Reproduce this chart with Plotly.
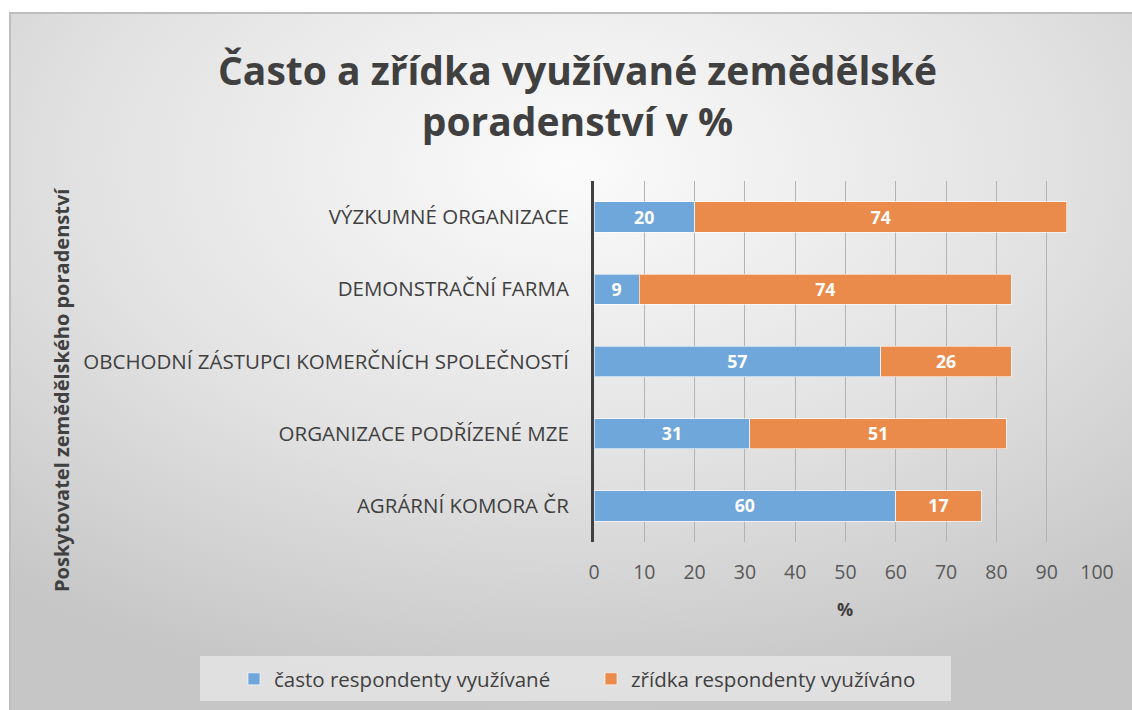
import base64
import plotly.graph_objects as go

categories = [
    "AGRÁRNÍ KOMORA ČR",
    "ORGANIZACE PODŘÍZENÉ MZE",
    "OBCHODNÍ ZÁSTUPCI KOMERČNÍCH SPOLEČNOSTÍ",
    "DEMONSTRAČNÍ FARMA",
    "VÝZKUMNÉ ORGANIZACE",
]
often_values = [60, 31, 57, 9, 20]
rarely_values = [17, 51, 26, 74, 74]
series_names = ["často respondenty využívané", "zřídka respondenty využíváno"]
x_ticks = [0, 10, 20, 30, 40, 50, 60, 70, 80, 90, 100]

W, H = 1132, 710
L, R, T, B = 594, 35, 181, 168
PW = W - L - R
PH = H - T - B


def px_x(px):
    return (px - L) / PW


def px_y(py):
    return (H - B - py) / PH


FONT = "Open Sans"
BLUE = "#6fa7da"
ORANGE = "#eb8b4b"

svg = f'''<svg xmlns="http://www.w3.org/2000/svg" width="1123" height="698" viewBox="0 0 1123 698" preserveAspectRatio="none">
<defs><radialGradient id="g" cx="0.5" cy="0.22" r="0.78" fx="0.5" fy="0.22">
<stop offset="0" stop-color="#fbfbfb"/><stop offset="0.55" stop-color="#e2e2e2"/><stop offset="1" stop-color="#c6c6c6"/>
</radialGradient></defs>
<rect x="0" y="0" width="1123" height="698" fill="url(#g)"/>
<line x1="0" y1="1" x2="1123" y2="1" stroke="#bdbdbd" stroke-width="2"/>
<line x1="1" y1="0" x2="1" y2="698" stroke="#bdbdbd" stroke-width="2"/>
</svg>'''
src = "data:image/svg+xml;base64," + base64.b64encode(svg.encode("utf-8")).decode("ascii")

fig = go.Figure()
for name, vals, col in [(series_names[0], often_values, BLUE), (series_names[1], rarely_values, ORANGE)]:
    fig.add_trace(go.Bar(
        y=categories, x=vals, name=name, orientation="h",
        marker=dict(color=col, line=dict(color="rgba(255,255,255,0.6)", width=1)),
        width=0.42,
        text=[str(v) for v in vals], textposition="inside", insidetextanchor="middle",
        textangle=0,
        textfont=dict(family=FONT, size=19, color="white", weight="bold"),
        hoverinfo="skip",
    ))

fig.update_layout(
    width=W, height=H, barmode="stack",
    margin=dict(l=L, r=R, t=T, b=B, autoexpand=False),
    paper_bgcolor="white", plot_bgcolor="rgba(0,0,0,0)",
    font=dict(family=FONT, color="#404040"),
    showlegend=True,
    legend=dict(orientation="h", xref="paper", yref="paper",
                x=px_x(234), y=px_y(679), xanchor="left", yanchor="middle",
                bgcolor="rgba(0,0,0,0)", font=dict(family=FONT, size=20.5, color="#404040"),
                traceorder="normal", entrywidth=312, entrywidthmode="pixels", itemwidth=30),
    xaxis=dict(range=[0, 100], tickvals=x_ticks, showgrid=True, gridcolor="#b3b3b3", gridwidth=1,
               zeroline=False, showline=False, tickfont=dict(family=FONT, size=19.5, color="#595959"),
               ticklabelstandoff=16, fixedrange=True),
    yaxis=dict(range=[-0.5, 4.5], showline=True, linecolor="#404040", linewidth=3, showgrid=False,
               tickfont=dict(family=FONT, size=20.5, color="#404040"), ticklabelstandoff=18,
               fixedrange=True),
    images=[dict(source=src, xref="paper", yref="paper", x=px_x(9), y=px_y(12),
                 sizex=(W - 9) / PW, sizey=(H - 12) / PH, sizing="stretch",
                 xanchor="left", yanchor="top", layer="below")],
    shapes=[dict(type="rect", xref="paper", yref="paper", x0=px_x(200), x1=px_x(951),
                 y0=px_y(656), y1=px_y(701), fillcolor="rgba(232,232,232,0.75)", line=dict(width=0),
                 layer="below")],
    annotations=[
        dict(text="Často a zřídka využívané zemědělské<br>poradenství v %", xref="paper", yref="paper",
             x=px_x(577), y=px_y(95), xanchor="center", yanchor="middle", showarrow=False,
             font=dict(family=FONT, size=39, color="#404040", weight="bold")),
        dict(text="%", xref="paper", yref="paper", x=px_x(845), y=px_y(609), xanchor="center",
             yanchor="middle", showarrow=False,
             font=dict(family=FONT, size=18, color="#404040", weight="bold")),
        dict(text="Poskytovatel zemědělského poradenství", xref="paper", yref="paper", x=px_x(61),
             y=px_y(390), xanchor="center", yanchor="middle", textangle=-90, showarrow=False,
             font=dict(family=FONT, size=20, color="#404040", weight="bold")),
    ],
)

fig.write_html("out.html", config={"displayModeBar": False},
               post_script="document.body.style.margin='0px';document.body.style.overflow='hidden';")
